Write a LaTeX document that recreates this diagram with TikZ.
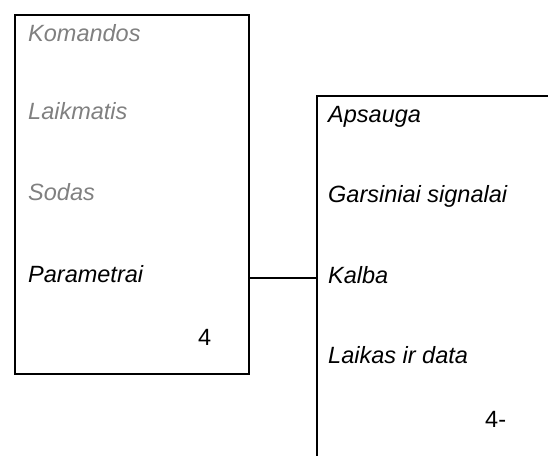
\documentclass[tikz,border=0pt]{standalone}
\usepackage{fontspec}
\setmainfont{Liberation Sans}
\begin{document}
\begin{tikzpicture}[x=1pt,y=-1pt,
  lbl/.style={anchor=base west,inner sep=0pt,font=\fontsize{23.5}{26}\selectfont\itshape},
  dim/.style={lbl,text={rgb,255:red,128;green,128;blue,128}},
  num/.style={anchor=base west,inner sep=0pt,font=\fontsize{23.5}{26}\selectfont},
  frame/.style={line width=2pt}]
\useasboundingbox (0,0) rectangle (548,455);
\node[draw,frame,minimum width=234pt,minimum height=359pt,anchor=north west,inner sep=0pt] (menu) at (14,14) {};
\node[dim] (t1) at (28,41) {Komandos};
\node[dim] (t2) at (28,119) {Laikmatis};
\node[dim] (t3) at (28,200) {Sodas};
\node[lbl] (t4) at (28,282) {Parametrai};
\node[num] (n1) at (198,345) {4};
\coordinate (rtop) at (317,96);
\coordinate (rtr) at (549,96);
\coordinate (rbot) at (317,456);
\draw[frame] (rtr) -- (rtop) -- (rbot);
\node[lbl] (s1) at (328,122) {Apsauga};
\node[lbl] (s2) at (328,202) {Garsiniai signalai};
\node[lbl] (s3) at (328,283) {Kalba};
\node[lbl] (s4) at (328,363) {Laikas ir data};
\node[num] (n2) at (485,427) {4-};
\coordinate (cR) at (317,278);
\draw[frame] (menu.east |- cR) -- (cR);
\end{tikzpicture}
\end{document}
